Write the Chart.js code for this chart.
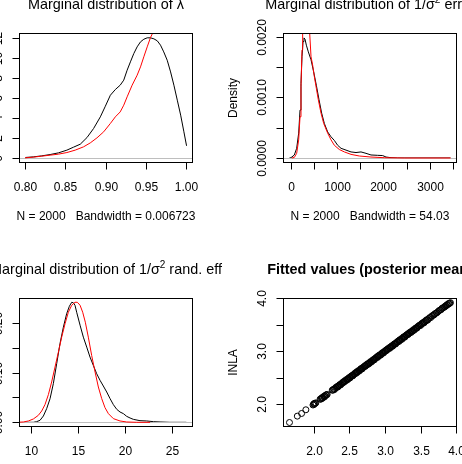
<!DOCTYPE html>
<html>
<head>
<meta charset="utf-8">
<script src="https://cdn.jsdelivr.net/npm/chart.js@4.4.1/dist/chart.umd.min.js"></script>
<style>
  html, body { margin: 0; padding: 0; background: #fff; }
  body { width: 462px; height: 464px; overflow: hidden; position: relative; }
  canvas { position: absolute; }
</style>
</head>
<body>
<canvas id="lambda"></canvas>
<canvas id="precErr"></canvas>
<canvas id="precRand"></canvas>
<canvas id="fitted"></canvas>
<script>
// Marginal of lambda: kernel density of MCMC draws (black) and INLA marginal (red)
const lambdaKdeX = [0.8005, 0.8104, 0.8207, 0.8311, 0.8415, 0.8519, 0.86, 0.8685, 0.8768, 0.885, 0.8934, 0.8996, 0.9058, 0.912, 0.918, 0.9224, 0.9266, 0.9307, 0.9349, 0.939, 0.9432, 0.9473, 0.9515, 0.9556, 0.9598, 0.964, 0.968, 0.972, 0.9763, 0.9805, 0.9846, 0.9888, 0.993, 0.997, 1.0003]
const lambdaKdeY = [0.07, 0.13, 0.23, 0.36, 0.53, 0.8, 1.09, 1.39, 2.05, 2.95, 4.11, 5.17, 6.26, 6.83, 7.26, 7.76, 8.75, 9.58, 10.41, 11.07, 11.57, 11.83, 11.97, 11.97, 11.87, 11.67, 11.24, 10.57, 9.74, 8.58, 7.26, 5.77, 4.28, 2.62, 1.23]
const lambdaInlaX = [0.8, 0.81, 0.8207, 0.8311, 0.8415, 0.8519, 0.8622, 0.8726, 0.8809, 0.8892, 0.8975, 0.9058, 0.912, 0.918, 0.9224, 0.9266, 0.9328, 0.939, 0.9432, 0.9473, 0.9515, 0.9556, 0.959, 0.963, 0.97]
const lambdaInlaY = [0.03, 0.1, 0.2, 0.3, 0.4, 0.56, 0.8, 1.13, 1.52, 2.02, 2.62, 3.45, 4.11, 4.6, 5.27, 6.1, 7.26, 8.25, 9.08, 10.08, 11.07, 12.0, 12.56, 13.3, 14.2]

// Marginal of 1/sigma^2 (error)
const errKdeX = [-34, 0, 72, 123, 166, 195, 216, 238, 260, 281, 303, 332, 375, 433, 490, 548, 606, 663, 721, 793, 865, 937, 1009, 1082, 1190, 1298, 1406, 1514, 1622, 1730, 1875, 1983, 2055, 2163, 2307, 3450]
const errKdeY = [0, 0.0000055, 0.00005, 0.00016, 0.00041, 0.00079, 0.00123, 0.00167, 0.00192, 0.00198, 0.00196, 0.00186, 0.00175, 0.00162, 0.00142, 0.0012, 0.00096, 0.00074, 0.00057, 0.00043, 0.00035, 0.00029, 0.00021, 0.00016, 0.00013, 0.0001, 0.00009, 0.0001, 0.000077, 0.00005, 0.000044, 0.00004, 0.000016, 0.000005, 0, 0]
const errInlaX = [20, 72, 123, 166, 195, 216, 238, 252, 300, 360, 404, 433, 469, 505, 548, 591, 649, 707, 793, 865, 937, 1045, 1154, 1298, 1478, 1730, 2019, 2451, 3450]
const errInlaY = [0, 0.00001, 0.000077, 0.0003, 0.00068, 0.00118, 0.00178, 0.00205, 0.0025, 0.0023, 0.00206, 0.00167, 0.00153, 0.00134, 0.00115, 0.00096, 0.00074, 0.00057, 0.00041, 0.0003, 0.00021, 0.00014, 0.0001, 0.00006, 0.000033, 0.000016, 0.000005, 0, 0]

// Marginal of 1/sigma^2 (random effect)
const randKdeX = [9.41, 10.25, 10.6, 10.96, 11.32, 11.67, 12.03, 12.38, 12.74, 13.09, 13.45, 13.8, 14.09, 14.34, 14.52, 14.69, 14.87, 15.23, 15.58, 15.94, 16.29, 16.65, 17.0, 17.36, 17.71, 18.07, 18.43, 18.78, 19.14, 19.49, 19.85, 20.2, 20.56, 20.91, 21.62, 22.34, 23.05, 23.76, 24.8, 26.56]
const randKdeY = [0, 0, 0.0013, 0.004, 0.0127, 0.0274, 0.0475, 0.0776, 0.118, 0.158, 0.191, 0.218, 0.233, 0.241, 0.24, 0.235, 0.221, 0.195, 0.171, 0.151, 0.131, 0.114, 0.0977, 0.0843, 0.0729, 0.0609, 0.0475, 0.0355, 0.0261, 0.0207, 0.0174, 0.012, 0.0087, 0.006, 0.0033, 0.0027, 0.0013, 0.0007, 0, 0]
const randInlaX = [8.5, 9.18, 9.72, 10.25, 10.78, 11.14, 11.49, 11.85, 12.2, 12.56, 12.92, 13.27, 13.63, 13.98, 14.34, 14.69, 14.94, 15.23, 15.51, 15.79, 16.11, 16.47, 16.83, 17.18, 17.54, 17.89, 18.25, 18.78, 19.49, 20.2, 21.27, 22.7]
const randInlaY = [0, 0.0007, 0.0027, 0.0067, 0.014, 0.0227, 0.0355, 0.0555, 0.081, 0.111, 0.141, 0.171, 0.198, 0.221, 0.235, 0.241, 0.241, 0.235, 0.221, 0.201, 0.171, 0.134, 0.101, 0.0709, 0.0475, 0.0294, 0.0174, 0.0074, 0.0027, 0.0007, 0, 0]

// Fitted values (posterior mean): MCMC on x, INLA on y
const fittedMcmc = [
    1.66, 1.77, 1.83, 1.89, 1.99, 2.00, 2.005, 2.01, 2.02, 2.03,
    2.09, 2.10, 2.11, 2.115, 2.12, 2.13, 2.14, 2.15, 2.155, 2.16, 2.17, 2.18, 2.19,
    2.26, 2.27, 2.28, 2.29, 2.30, 2.31, 2.32, 2.33, 2.34, 2.35, 2.355, 2.36, 2.37, 2.38, 2.39,
    2.40, 2.41, 2.42, 2.425, 2.43, 2.44, 2.45, 2.46, 2.47, 2.48, 2.485, 2.49,
    2.50, 2.51, 2.52, 2.53, 2.54, 2.545, 2.55, 2.56, 2.57, 2.58, 2.59,
    2.60, 2.605, 2.61, 2.62, 2.63, 2.64, 2.65, 2.66, 2.665, 2.67, 2.68, 2.69,
    2.70, 2.71, 2.72, 2.725, 2.73, 2.74, 2.75, 2.76, 2.77, 2.78, 2.785, 2.79,
    2.80, 2.81, 2.82, 2.83, 2.84, 2.845, 2.85, 2.86, 2.87, 2.88, 2.89,
    2.90, 2.905, 2.91, 2.92, 2.93, 2.94, 2.95, 2.96, 2.965, 2.97, 2.98, 2.99,
    3.00, 3.01, 3.02, 3.025, 3.03, 3.04, 3.05, 3.06, 3.07, 3.08, 3.085, 3.09,
    3.10, 3.11, 3.12, 3.13, 3.14, 3.145, 3.15, 3.16, 3.17, 3.18, 3.19,
    3.20, 3.205, 3.21, 3.22, 3.23, 3.24, 3.25, 3.26, 3.265, 3.27, 3.28, 3.29,
    3.30, 3.31, 3.32, 3.325, 3.33, 3.34, 3.35, 3.36, 3.37, 3.38, 3.385, 3.39,
    3.40, 3.41, 3.42, 3.43, 3.44, 3.445, 3.45, 3.46, 3.47, 3.48, 3.49,
    3.50, 3.51, 3.52, 3.53, 3.54, 3.55, 3.56, 3.57, 3.58, 3.59, 3.60,
    3.615, 3.63, 3.645, 3.66, 3.675, 3.69, 3.70, 3.715, 3.73, 3.745, 3.76, 3.775, 3.79,
    3.80, 3.81, 3.825, 3.84, 3.85, 3.86, 3.87, 3.88, 3.89, 3.90, 3.91, 3.92
]
const fittedInla = [
    1.66, 1.78, 1.83, 1.90, 1.99, 2.01, 2.00, 2.02, 2.02, 2.03,
    2.10, 2.10, 2.12, 2.11, 2.13, 2.13, 2.15, 2.14, 2.16, 2.16, 2.18, 2.18, 2.19,
    2.27, 2.27, 2.29, 2.28, 2.30, 2.32, 2.32, 2.34, 2.33, 2.35, 2.36, 2.36, 2.38, 2.37, 2.39,
    2.41, 2.41, 2.43, 2.42, 2.43, 2.45, 2.45, 2.47, 2.46, 2.48, 2.49, 2.49,
    2.51, 2.50, 2.52, 2.54, 2.54, 2.55, 2.54, 2.56, 2.58, 2.58, 2.60,
    2.59, 2.61, 2.62, 2.62, 2.64, 2.63, 2.65, 2.67, 2.67, 2.68, 2.67, 2.69,
    2.71, 2.71, 2.73, 2.72, 2.73, 2.75, 2.75, 2.77, 2.76, 2.78, 2.79, 2.79,
    2.81, 2.80, 2.82, 2.84, 2.84, 2.85, 2.84, 2.86, 2.88, 2.88, 2.90,
    2.89, 2.91, 2.92, 2.92, 2.94, 2.93, 2.95, 2.97, 2.97, 2.98, 2.97, 2.99,
    3.01, 3.01, 3.03, 3.02, 3.03, 3.05, 3.05, 3.07, 3.06, 3.08, 3.09, 3.09,
    3.11, 3.10, 3.12, 3.14, 3.14, 3.15, 3.14, 3.16, 3.18, 3.18, 3.20,
    3.19, 3.21, 3.22, 3.22, 3.24, 3.23, 3.25, 3.27, 3.27, 3.28, 3.27, 3.29,
    3.31, 3.31, 3.33, 3.32, 3.33, 3.35, 3.35, 3.37, 3.36, 3.38, 3.39, 3.39,
    3.41, 3.40, 3.42, 3.44, 3.44, 3.45, 3.44, 3.46, 3.48, 3.48, 3.50,
    3.49, 3.51, 3.53, 3.53, 3.55, 3.54, 3.56, 3.58, 3.58, 3.60, 3.59,
    3.62, 3.64, 3.64, 3.67, 3.68, 3.69, 3.71, 3.72, 3.73, 3.75, 3.77, 3.78, 3.79,
    3.81, 3.82, 3.83, 3.84, 3.86, 3.86, 3.88, 3.88, 3.90, 3.90, 3.91, 3.92
]

const FONT = '"Liberation Sans", Arial, Helvetica, sans-serif'

const toPoints = (xs, ys) => xs.map((x, i) => ({ x, y: ys[i] }))

const drawTitle = (ctx, parts, cx, y, bold) => {
    const big = (bold ? 'bold ' : '') + '14.4px ' + FONT
    const small = (bold ? 'bold ' : '') + '10px ' + FONT
    let w = 0
    parts.forEach(([t, sup]) => { ctx.font = sup ? small : big; w += ctx.measureText(t).width })
    let x = cx - w / 2
    ctx.textAlign = 'left'
    ctx.textBaseline = 'alphabetic'
    parts.forEach(([t, sup]) => {
        ctx.font = sup ? small : big
        ctx.fillText(t, x, sup ? y - 6 : y)
        x += ctx.measureText(t).width
    })
}

// R base graphics look: box, outside ticks, rotated y labels, title, sub
const rPlot = {
    id: 'rPlot',
    afterDatasetDraw(chart, args, o) {
        if (!o.zeroLine || args.index !== chart.data.datasets.length - 1) return
        const { ctx, chartArea: a } = chart
        const y = Math.round(chart.scales.y.getPixelForValue(0)) + 0.5
        ctx.save()
        ctx.strokeStyle = '#bebebe'
        ctx.lineWidth = 1
        ctx.beginPath()
        ctx.moveTo(a.left, y)
        ctx.lineTo(a.right, y)
        ctx.stroke()
        ctx.restore()
    },
    afterDraw(chart, args, o) {
        const { ctx, chartArea: a, scales } = chart
        ctx.save()
        ctx.strokeStyle = '#000'
        ctx.fillStyle = '#000'
        ctx.lineWidth = 1
        ctx.strokeRect(a.left + 0.5, a.top + 0.5, a.right - a.left - 1, a.bottom - a.top - 1)

        const xs = o.xTicks.map(v => Math.round(scales.x.getPixelForValue(v)) + 0.5)
        const yb = a.bottom - 0.5
        ctx.beginPath()
        ctx.moveTo(xs[0], yb)
        ctx.lineTo(xs[xs.length - 1], yb)
        xs.forEach(px => { ctx.moveTo(px, yb); ctx.lineTo(px, yb + 7) })
        ctx.stroke()

        const ys = o.yTicks.map(v => Math.round(scales.y.getPixelForValue(v)) + 0.5)
        const xl = a.left + 0.5
        ctx.beginPath()
        ctx.moveTo(xl, ys[0])
        ctx.lineTo(xl, ys[ys.length - 1])
        ys.forEach(py => { ctx.moveTo(xl, py); ctx.lineTo(xl - 7, py) })
        ctx.stroke()

        ctx.font = '12px ' + FONT
        ctx.textAlign = 'center'
        ctx.textBaseline = 'alphabetic'
        o.xLabels.forEach((t, i) => { if (t) ctx.fillText(t, xs[i], a.bottom + 28) })
        o.yLabels.forEach((t, i) => {
            if (!t) return
            ctx.save()
            ctx.translate(a.left - 17, ys[i])
            ctx.rotate(-Math.PI / 2)
            ctx.fillText(t, 0, 0)
            ctx.restore()
        })
        if (o.ylab) {
            ctx.save()
            ctx.translate(a.left - 46, (a.top + a.bottom) / 2)
            ctx.rotate(-Math.PI / 2)
            ctx.fillText(o.ylab, 0, 0)
            ctx.restore()
        }
        if (o.sub) ctx.fillText(o.sub, (a.left + a.right) / 2, a.bottom + 57)
        drawTitle(ctx, o.title, (a.left + a.right) / 2, a.top - 24, o.bold)
        ctx.restore()
    }
}

const PAD = { left: 100, top: 60, right: 110, bottom: 80 }

const makePanel = (id, box, type, datasets, scales, axes) => {
    const canvas = document.getElementById(id)
    const w = box.right - box.left + PAD.left + PAD.right
    const h = box.bottom - box.top + PAD.top + PAD.bottom
    canvas.width = w
    canvas.height = h
    canvas.style.width = w + 'px'
    canvas.style.height = h + 'px'
    canvas.style.left = (box.left - PAD.left) + 'px'
    canvas.style.top = (box.top - PAD.top) + 'px'

    return new Chart(canvas, {
        type: type,
        data: { datasets: datasets },
        options: {
            responsive: false,
            animation: false,
            events: [],
            layout: { padding: PAD },
            plugins: {
                legend: { display: false },
                tooltip: { enabled: false },
                rPlot: axes
            },
            scales: {
                x: { type: 'linear', display: false, min: scales.x[0], max: scales.x[1] },
                y: { type: 'linear', display: false, min: scales.y[0], max: scales.y[1] }
            }
        },
        plugins: [rPlot]
    })
}

const densityLines = (inlaX, inlaY, kdeX, kdeY) => [
    { data: toPoints(inlaX, inlaY), borderColor: '#ff0000', borderWidth: 1, pointRadius: 0, fill: false },
    { data: toPoints(kdeX, kdeY), borderColor: '#000000', borderWidth: 1, pointRadius: 0, fill: false }
]

makePanel('lambda', { left: 19, top: 33, right: 193, bottom: 163 }, 'line',
    densityLines(lambdaInlaX, lambdaInlaY, lambdaKdeX, lambdaKdeY),
    { x: [0.79251, 1.00829], y: [-0.48, 12.45] },
    {
        zeroLine: true,
        xTicks: [0.8, 0.85, 0.9, 0.95, 1.0], xLabels: ['0.80', '0.85', '0.90', '0.95', '1.00'],
        yTicks: [0, 2, 4, 6, 8, 10, 12], yLabels: ['0', '2', '4', '6', '8', '10', '12'],
        ylab: 'Density', sub: 'N = 2000   Bandwidth = 0.006723',
        title: [['Marginal distribution of λ']]
    })

makePanel('precErr', { left: 283, top: 33, right: 457, bottom: 163 }, 'line',
    densityLines(errInlaX, errInlaY, errKdeX, errKdeY),
    { x: [-173, 3590], y: [-0.0000824, 0.002061] },
    {
        zeroLine: true,
        xTicks: [0, 500, 1000, 1500, 2000, 2500, 3000, 3500], xLabels: ['0', '', '1000', '', '2000', '', '3000', ''],
        yTicks: [0, 0.0005, 0.001, 0.0015, 0.002], yLabels: ['0.0000', '', '0.0010', '', '0.0020'],
        ylab: 'Density', sub: 'N = 2000   Bandwidth = 54.03',
        title: [['Marginal distribution of 1/σ'], ['2', true], [' error']]
    })

makePanel('precRand', { left: 19, top: 298, right: 193, bottom: 427 }, 'line',
    densityLines(randInlaX, randInlaY, randKdeX, randKdeY),
    { x: [8.72, 27.27], y: [-0.0094, 0.2496] },
    {
        zeroLine: true,
        xTicks: [10, 15, 20, 25], xLabels: ['10', '15', '20', '25'],
        yTicks: [0, 0.05, 0.1, 0.15, 0.2], yLabels: ['0.00', '', '0.10', '', '0.20'],
        ylab: 'Density',
        title: [['Marginal distribution of 1/σ'], ['2', true], [' rand. eff']]
    })

makePanel('fitted', { left: 283, top: 298, right: 457, bottom: 427 }, 'scatter',
    [{
        data: toPoints(fittedMcmc, fittedInla),
        pointStyle: 'circle', pointRadius: 3, borderWidth: 1,
        borderColor: '#000000', backgroundColor: 'rgba(0,0,0,0)'
    }],
    { x: [1.569, 4.012], y: [1.575, 4.008] },
    {
        zeroLine: false,
        xTicks: [2, 2.5, 3, 3.5, 4], xLabels: ['2.0', '2.5', '3.0', '3.5', '4.0'],
        yTicks: [2, 2.5, 3, 3.5, 4], yLabels: ['2.0', '', '3.0', '', '4.0'],
        ylab: 'INLA', bold: true,
        title: [['Fitted values (posterior mean)']]
    })
</script>
</body>
</html>
